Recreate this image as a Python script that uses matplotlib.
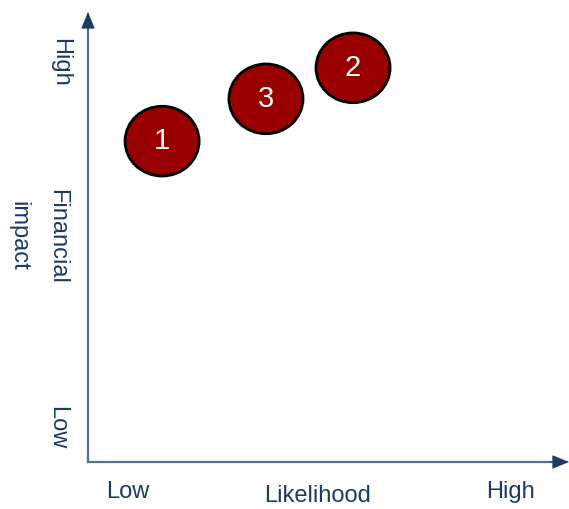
import matplotlib.pyplot as plt
from matplotlib.patches import Ellipse

# risk bubbles on a 0-10 likelihood / impact grid
risk_ids = ["1", "3", "2"]
likelihood = [1.54, 3.70, 5.51]
impact = [7.13, 8.07, 8.76]

navy = "#1b3a66"
axis_line = "#52708f"
fill_red = "#990000"

plt.rcParams['font.family'] = ['Liberation Sans Narrow', 'Liberation Sans', 'DejaVu Sans']

fig = plt.figure(figsize=(5.69, 5.09), dpi=100)
ax = fig.add_axes([88 / 569, 47 / 509, 481 / 569, 450 / 509])
ax.set_xlim(0, 10)
ax.set_ylim(0, 10)
ax.axis('off')

# axis lines, then arrow heads on top
ax.plot([0, 0], [0, 0.97], transform=ax.transAxes, color=axis_line, lw=1.6,
        clip_on=False)
ax.plot([0, 0.97], [0, 0], transform=ax.transAxes, color=axis_line, lw=1.6,
        clip_on=False)
head = dict(arrowstyle='-|>,head_length=1.1,head_width=0.45', color=navy,
            lw=0.5, shrinkA=0, shrinkB=0)
ax.annotate("", xy=(0, 1.0), xytext=(0, 0.96), xycoords='axes fraction',
            arrowprops=head)
ax.annotate("", xy=(1.0, 0), xytext=(0.96, 0), xycoords='axes fraction',
            arrowprops=head)

for rid, x, y in zip(risk_ids, likelihood, impact):
    ax.add_patch(Ellipse((x, y), 1.54, 1.55, facecolor=fill_red,
                         edgecolor='black', lw=2))
    ax.text(x, y, rid, color='white', fontsize=21, ha='center', va='center')

# axis labels
fig.text(60 / 569, 1 - 62 / 509, "High", rotation=-90, color=navy,
         fontsize=17, ha='center', va='center')
fig.text(57 / 569, 1 - 236 / 509, "Financial", rotation=-90, color=navy,
         fontsize=17, ha='center', va='center')
fig.text(18 / 569, 1 - 236 / 509, "impact", rotation=-90, color=navy,
         fontsize=17, ha='center', va='center')
fig.text(57 / 569, 1 - 428 / 509, "Low", rotation=-90, color=navy,
         fontsize=17, ha='center', va='center')

fig.text(128 / 569, 1 - 492 / 509, "Low", color=navy, fontsize=17,
         ha='center', va='center')
fig.text(318 / 569, 1 - 496 / 509, "Likelihood", color=navy, fontsize=17,
         ha='center', va='center')
fig.text(510 / 569, 1 - 492 / 509, "High", color=navy, fontsize=17,
         ha='center', va='center')

fig.savefig("out.png", dpi=100)
